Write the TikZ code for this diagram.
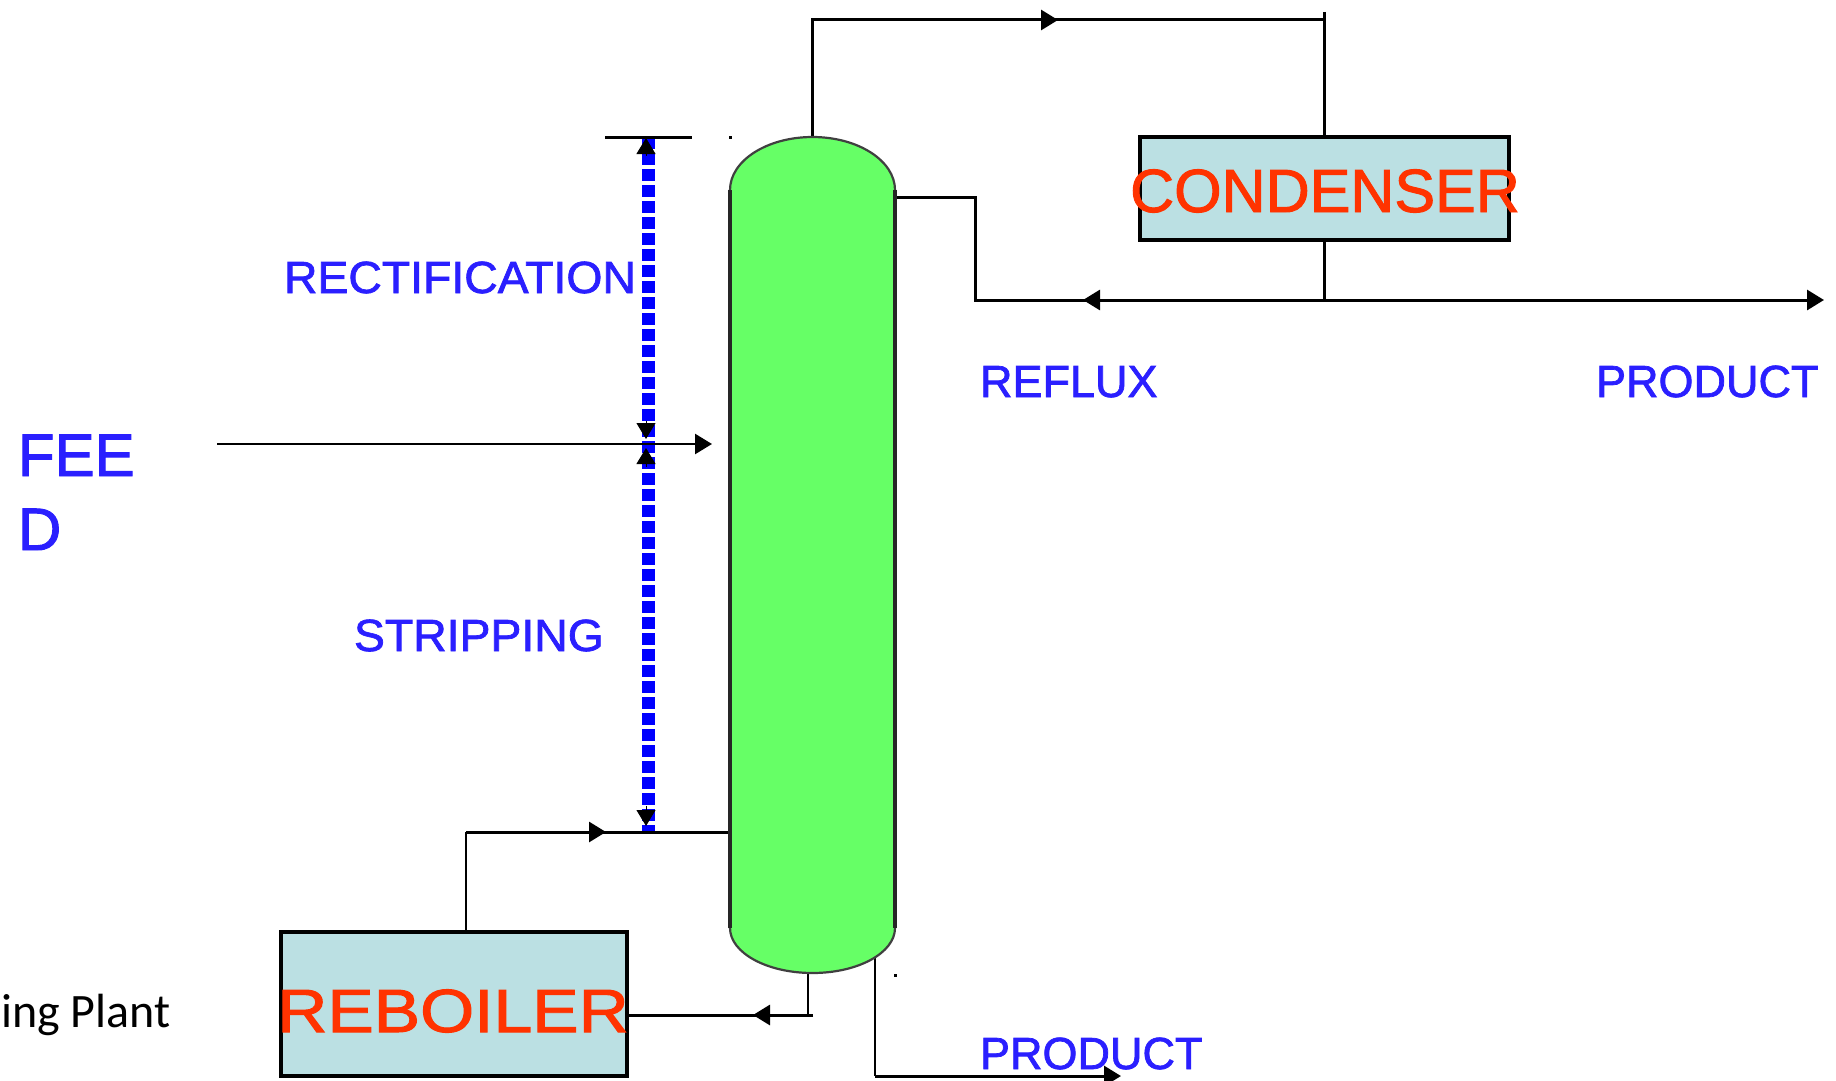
\documentclass[tikz,border=0pt]{standalone}
\usepackage{fontspec}
\setmainfont{Liberation Sans}
\newfontfamily\boldish[FakeBold=1.6]{Liberation Sans}
\newfontfamily\carl{Carlito}
\usetikzlibrary{arrows.meta}
\definecolor{colgreen}{HTML}{66FF66}
\definecolor{boxfill}{HTML}{BBE0E3}
\definecolor{redtxt}{HTML}{FF3300}
\definecolor{bluetxt}{HTML}{2A1FFF}
\definecolor{dashblue}{HTML}{0000FF}
\tikzset{
  x=1pt,y=-1pt,
  flow/.style={draw=black,line width=3pt,line cap=butt},
  thin flow/.style={draw=black,line width=2.6pt},
  tip/.style={-{Triangle[length=17pt,width=20pt,fill=black]}},
  tipb/.style={-{Triangle[length=16pt,width=19pt,fill=black]}},
  unitbox/.style={draw=black,line width=4pt,fill=boxfill,inner sep=0pt,outer sep=0pt},
  lbl/.style={anchor=base west,inner sep=0pt,outer sep=0pt,text=bluetxt,font=\boldish\fontsize{45}{45}\selectfont},
  unitlbl/.style={anchor=base,inner sep=0pt,outer sep=0pt,text=redtxt,font=\boldish\fontsize{61}{61}\selectfont},
  dashline/.style={draw=dashblue,line width=13pt,dash pattern=on 12pt off 4pt},
  spot/.style={fill=black,inner sep=0pt,minimum size=3pt,outer sep=0pt},
}
\begin{document}
\begin{tikzpicture}
\useasboundingbox (0,0) rectangle (1836,1081);
% units
\node[unitbox,minimum width=369pt,minimum height=103pt] (cond) at (1324.5,188.5) {};
\node[unitbox,minimum width=346pt,minimum height=144pt] (reb) at (454,1004) {};
\node[inner sep=0pt,minimum width=165pt,minimum height=837pt] (col) at (812.5,555.5) {};
% named junctions
\coordinate (topL) at (col.north |- 0,20);
\coordinate (topR) at (cond.north |- 0,20);
\coordinate (topEnd) at (cond.north |- 0,12);
\coordinate (topMid) at (1058,20);
\coordinate (sideOut) at (col.east |- 0,197);
\coordinate (sideA) at (975,197);
\coordinate (sideB) at (975,300);
\coordinate (refluxTip) at (1083,300);
\coordinate (split) at (cond.south |- 0,300);
\coordinate (prodEnd) at (1824,300);
\coordinate (feedStart) at (217,444);
\coordinate (feedEnd) at (712,444);
\coordinate (rebUp) at (466,932);
\coordinate (rebCorner) at (466,832);
\coordinate (rebTip) at (606,832);
\coordinate (colIn) at (col.west |- 0,832);
\coordinate (botOut) at (808,973);
\coordinate (botCorner) at (808,1015);
\coordinate (botEnd) at (813,1015);
\coordinate (botTip) at (753,1015);
\coordinate (rebIn) at (reb.east |- 0,1015);
\coordinate (prodOut) at (875,955);
\coordinate (prodCorner) at (875,1076);
\coordinate (prodTip) at (1121,1076);
\coordinate (barL) at (605,137);
\coordinate (barR) at (692,137);
\coordinate (bTop) at (648,137);
\coordinate (bBot) at (648,833);
% blue dimension line
\draw[dashline] (bTop) -- (bBot);
% connectors
\draw[flow] (col.north) -- (topL) -- (topR);
\draw[flow,tip] (topL) -- (topMid);
\draw[thin flow] (topEnd) -- (cond.north);
\draw[thin flow] (cond.south) -- (split);
\draw[flow] (sideOut) -- (sideA) -- (sideB) -- (split);
\draw[flow,tip] (split) -- (refluxTip);
\draw[flow,tip] (split) -- (prodEnd);
\draw[thin flow,tip] (feedStart) -- (feedEnd);
\draw[flow] (barL) -- (barR);
\draw[thin flow] (rebUp) -- (rebCorner);
\draw[flow] (rebCorner) -- (colIn);
\draw[flow,tip] (rebCorner) -- (rebTip);
\draw[thin flow] (botOut) -- (botCorner);
\draw[flow] (rebIn) -- (botEnd);
\draw[flow,tip] (botEnd) -- (botTip);
\draw[thin flow] (prodOut) -- (prodCorner);
\draw[flow,tip] (prodCorner) -- (prodTip);
% black tips on blue line
\draw[line width=1pt,tipb] (646,156) -- (646,138);
\draw[line width=1pt,tipb] (646,421) -- (646,439);
\draw[line width=1pt,tipb] (646,467) -- (646,448);
\draw[line width=1pt,tipb] (646,806) -- (646,826);
% column
\fill[colgreen]
  (730,190) arc[start angle=180,end angle=360,x radius=82.5,y radius=53]
  -- (895,928) arc[start angle=0,end angle=180,x radius=82.5,y radius=45] -- cycle;
\draw[draw=black!85,line width=3.4pt] (730,190) -- (730,928) (895,190) -- (895,928);
\draw[draw=black!75,line width=2.2pt]
  (730,190) arc[start angle=180,end angle=360,x radius=82.5,y radius=53]
  (895,928) arc[start angle=0,end angle=180,x radius=82.5,y radius=45];
% stray marks
\node[spot] (dotA) at (730.5,137) {};
\node[spot] (dotB) at (895,975) {};
% labels
\node[unitlbl] (condT) at (1325,212) {CONDENSER};
\node[unitlbl] (rebT) at (453,1032) {\scalebox{1.14}[1]{REBOILER}};
\node[lbl] (rect) at (284,293) {\scalebox{1.03}[1]{RECTIFICATION}};
\node[lbl] (strip) at (354,651) {\scalebox{1.03}[1]{STRIPPING}};
\node[lbl] (refl) at (980,397) {REFLUX};
\node[lbl] (prodA) at (1596,397) {PRODUCT};
\node[lbl] (prodB) at (980,1069) {PRODUCT};
\node[lbl,font=\boldish\fontsize{60}{60}\selectfont] (fee) at (18,476) {FEE};
\node[lbl,font=\boldish\fontsize{60}{60}\selectfont] (feeD) at (18,550) {D};
\node[anchor=base west,inner sep=0pt,text=black,font=\carl\fontsize{48}{48}\selectfont] (plant) at (1,1027) {ing Plant};
\end{tikzpicture}
\end{document}
